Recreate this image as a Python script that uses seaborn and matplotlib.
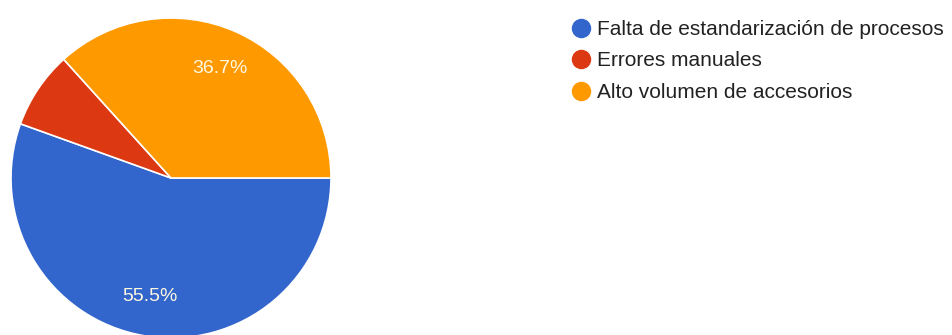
import matplotlib
matplotlib.use("Agg")
import matplotlib.pyplot as plt
import seaborn as sns
from matplotlib.lines import Line2D

sns.set_theme(style="white")
plt.rcParams['font.family'] = ['Liberation Sans', 'DejaVu Sans']

categories = ["Falta de estandarización de procesos", "Errores manuales", "Alto volumen de accesorios"]
values = [55.5, 7.8, 36.7]
colors = ["#3366CC", "#DC3912", "#FF9900"]

W, H = 952, 335
fig = plt.figure(figsize=(W / 100, H / 100), dpi=100)
fig.patch.set_facecolor("white")

cx, cy, r = 171, 178, 160
ax = fig.add_axes([(cx - r) / W, (H - cy - r) / H, 2 * r / W, 2 * r / H])

def fmt(p):
    return f"{p:.1f}%" if p > 10 else ""

wedges, texts, autotexts = ax.pie(
    values, colors=colors, startangle=0, counterclock=False,
    autopct=fmt, pctdistance=0.75,
    wedgeprops=dict(edgecolor="white", linewidth=1.2),
    textprops=dict(color="#FFF8E0", fontsize=14),
)
ax.set_xlim(-1, 1)
ax.set_ylim(-1, 1)
ax.set_aspect("equal")
ax.axis("off")

handles = [Line2D([0], [0], marker="o", linestyle="", markersize=13,
                  markerfacecolor=c, markeredgecolor=c) for c in colors]
fig.legend(handles, categories, loc="upper left",
           bbox_to_anchor=(571 / W, 1 - 20 / H), frameon=False,
           fontsize=15, handletextpad=0.25, labelspacing=0.6,
           handlelength=1.0, borderaxespad=0, borderpad=0,
           labelcolor="#222222")

fig.savefig("out.png", dpi=100)
